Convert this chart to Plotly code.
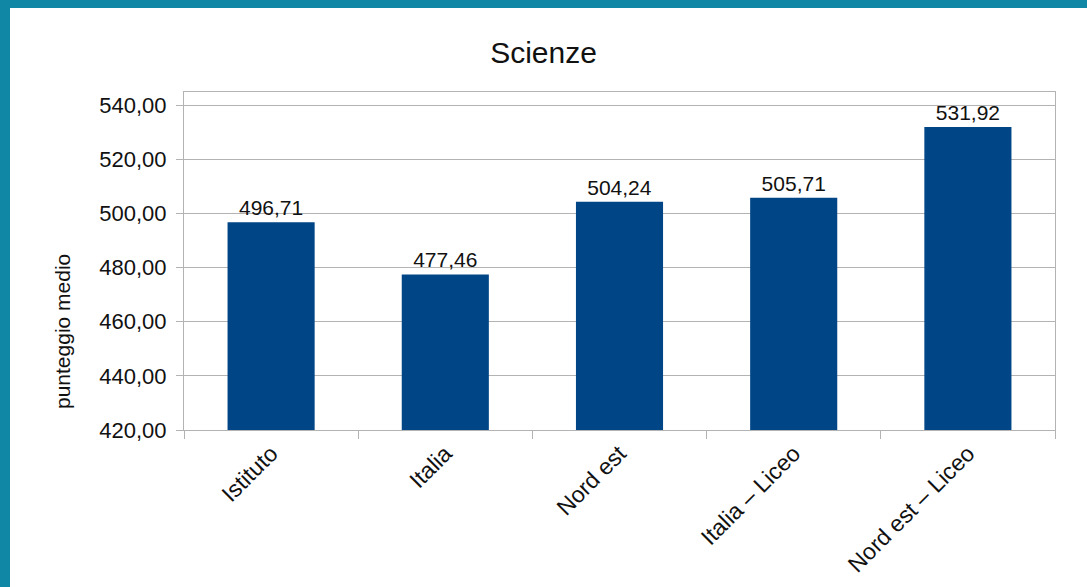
import plotly.graph_objects as go

categories = ["Istituto", "Italia", "Nord est", "Italia – Liceo", "Nord est – Liceo"]
values = [496.71, 477.46, 504.24, 505.71, 531.92]
y_ticks = [420, 440, 460, 480, 500, 520, 540]

W, H = 1087, 587
L, R, T, B = 184, 32, 92, 157
plot_w = W - L - R
plot_h = H - T - B

FONT = "Liberation Sans, Arial, sans-serif"
GRID = "#b3b3b3"
TEAL = "#0f87a5"
TXT = "#111111"

fig = go.Figure()
fig.add_trace(go.Bar(
    x=categories, y=values,
    marker=dict(color="#004586", line=dict(width=0)),
    width=0.5,
    texttemplate="%{y:.2f}",
    textposition="outside",
    textfont=dict(family=FONT, size=21, color=TXT),
    cliponaxis=False,
    hoverinfo="skip",
))

fig.update_layout(
    width=W, height=H,
    margin=dict(l=L, r=R, t=T, b=B, autoexpand=False),
    paper_bgcolor="white",
    plot_bgcolor="white",
    separators=", ",
    showlegend=False,
    font=dict(family=FONT, size=21, color=TXT),
    title=dict(text="Scienze", x=0.5, xanchor="center", y=1 - 52 / H, yanchor="middle",
               font=dict(family=FONT, size=30, color=TXT)),
)

fig.update_yaxes(
    range=[420, 544.8],
    tickvals=y_ticks,
    tickformat=".2f",
    showgrid=True, gridcolor=GRID, gridwidth=1,
    showline=True, linecolor=GRID, linewidth=1, mirror=True,
    ticks="outside", ticklen=7, tickcolor=GRID,
    ticklabelstandoff=5,
    tickfont=dict(family=FONT, size=22, color=TXT),
    zeroline=False,
    fixedrange=True,
)
fig.update_xaxes(
    type="category",
    tickangle=-45,
    showgrid=False,
    showline=True, linecolor=GRID, linewidth=1, mirror=True,
    ticks="outside", ticklen=8, tickcolor=GRID, tickson="boundaries",
    tickfont=dict(family=FONT, size=23, color=TXT),
    fixedrange=True,
)

# y-axis title as rotated annotation
fig.add_annotation(
    text="punteggio medio", textangle=-90,
    xref="paper", yref="paper",
    x=(62 - L) / plot_w, y=(H - B - 332) / plot_h,
    xanchor="center", yanchor="middle",
    showarrow=False,
    font=dict(family=FONT, size=21, color=TXT),
)

# teal frame strips (left and top)
def px_x(p):
    return (p - L) / plot_w

def px_y(p):
    return (H - B - p) / plot_h

fig.add_shape(type="rect", xref="paper", yref="paper",
              x0=px_x(0), x1=px_x(10), y0=px_y(H), y1=px_y(0),
              fillcolor=TEAL, line=dict(width=0), layer="above")
fig.add_shape(type="rect", xref="paper", yref="paper",
              x0=px_x(0), x1=px_x(W), y0=px_y(8), y1=px_y(0),
              fillcolor=TEAL, line=dict(width=0), layer="above")

fig.write_html(
    "out.html",
    config={"displayModeBar": False},
    post_script="document.body.style.margin='0';document.body.style.overflow='hidden';",
)
